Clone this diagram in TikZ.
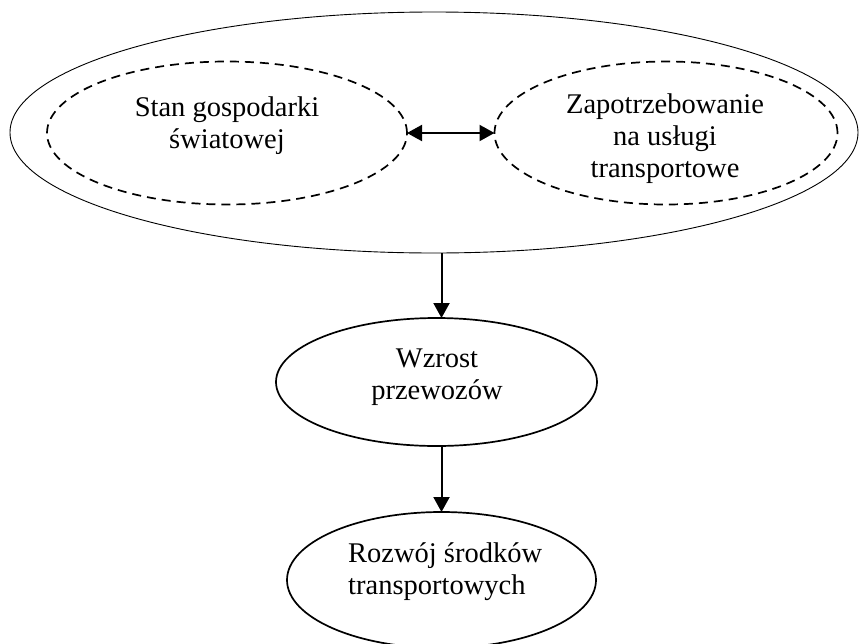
\documentclass[tikz,border=0pt]{standalone}
\usepackage{fontspec}
\setmainfont{Liberation Serif}
\usetikzlibrary{shapes.geometric,arrows.meta}
\tikzset{
  oval/.style={ellipse, draw, inner sep=0pt, outer sep=0pt},
  bigoval/.style={oval, line width=0.9pt},
  dashoval/.style={oval, line width=1.7pt, dash pattern=on 9pt off 6pt},
  solidoval/.style={oval, line width=1.7pt},
  txt/.style={font=\fontsize{28.5}{32}\selectfont, inner sep=0pt, align=center},
  arr/.style={line width=2pt, -{Triangle[length=15pt,width=16pt]}},
  darr/.style={line width=2pt, {Triangle[length=15pt,width=16pt]}-{Triangle[length=15pt,width=16pt]}}
}
\begin{document}
\begin{tikzpicture}[x=1pt,y=-1pt]
\useasboundingbox (0,0) rectangle (859,643);
\node[bigoval, minimum width=848pt, minimum height=241pt] (big) at (434,132.5) {};
\node[dashoval, minimum width=360pt, minimum height=143pt] (left) at (227,133) {};
\node[dashoval, minimum width=343pt, minimum height=143pt] (right) at (666,133) {};
\node[txt] (lefttxt) at (227,126) {Stan gospodarki\\światowej};
\node[txt] (righttxt) at (665,138.5) {Zapotrzebowanie\\na usługi\\transportowe};
\node[solidoval, minimum width=321pt, minimum height=128pt] (wz) at (436.5,382) {};
\node[txt] (wztxt) at (437,377.5) {Wzrost\\przewozów};
\node[solidoval, minimum width=309pt, minimum height=136pt] (roz) at (441.5,580) {};
\node[txt, align=left, anchor=west] (roztxt) at (348,572) {Rozwój środków\\transportowych};
\draw[darr] (left.east) -- (right.west);
\draw[arr] (big.south -| roz.center) -- (wz.north -| roz.center);
\draw[arr] (wz.south -| roz.center) -- (roz.north);
\end{tikzpicture}
\end{document}
